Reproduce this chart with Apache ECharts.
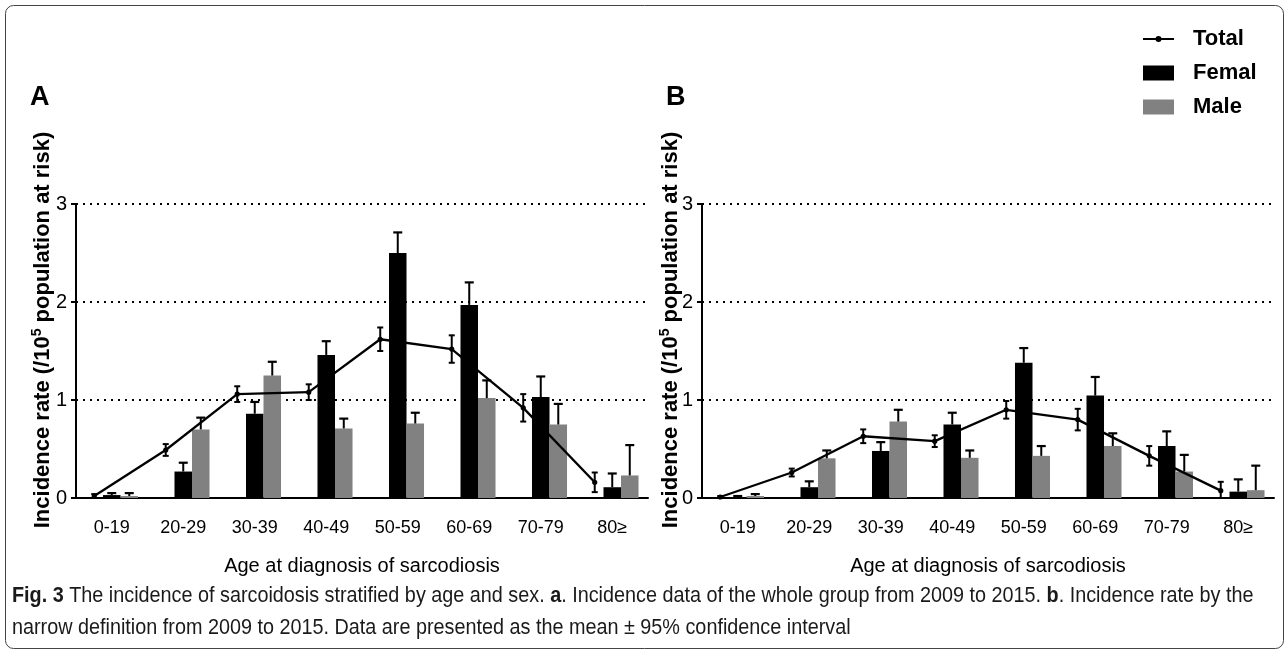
<!DOCTYPE html>
<html>
<head>
<meta charset="utf-8">
<script src="https://cdn.jsdelivr.net/npm/echarts@6/dist/echarts.min.js"></script>
<style>
html,body{margin:0;padding:0;background:#fff;}
#chart{width:1285px;height:651px;}
</style>
</head>
<body>
<div id="chart"></div>
<script>
// ---- data ----
const categories = ['0-19','20-29','30-39','40-49','50-59','60-69','70-79','80\u2265'];
const yTicks = [0, 1, 2, 3];

// Panel A: whole group
const totalA     = [0.02, 0.49, 1.06, 1.08, 1.62, 1.52, 0.92, 0.16];
const totalErrA  = [0.02, 0.06, 0.08, 0.08, 0.12, 0.14, 0.14, 0.10];
const femaleA    = [0.03, 0.27, 0.86, 1.46, 2.50, 1.97, 1.03, 0.11];
const femaleErrA = [0.02, 0.09, 0.12, 0.14, 0.21, 0.23, 0.21, 0.14];
const maleA      = [0.02, 0.70, 1.25, 0.71, 0.76, 1.02, 0.75, 0.23];
const maleErrA   = [0.03, 0.12, 0.14, 0.10, 0.11, 0.18, 0.21, 0.31];

// Panel B: narrow definition
const totalB     = [0.01, 0.26, 0.63, 0.58, 0.90, 0.80, 0.43, 0.075];
const totalErrB  = [0.01, 0.04, 0.07, 0.06, 0.09, 0.11, 0.10, 0.09];
const femaleB    = [0.01, 0.11, 0.48, 0.75, 1.38, 1.045, 0.53, 0.065];
const femaleErrB = [0.01, 0.06, 0.09, 0.12, 0.15, 0.19, 0.15, 0.125];
const maleB      = [0.02, 0.405, 0.78, 0.41, 0.43, 0.53, 0.27, 0.08];
const maleErrB   = [0.02, 0.08, 0.12, 0.075, 0.10, 0.13, 0.17, 0.25];

const COLOR_F = '#000000';
const COLOR_M = '#818181';
const SLOT = 0.245; // fraction of category band per bar slot

function toData(vals, errs) { return vals.map((v, i) => [i, v, errs[i]]); }

function barRender(offset, color) {
  return function (params, api) {
    const i = api.value(0), v = api.value(1), e = api.value(2);
    const band = api.size([1, 0])[0];
    const w = band * SLOT;
    const base = api.coord([i, 0]);
    const cx = base[0] + offset * w;
    const y0 = base[1];
    const yv = api.coord([i, v])[1];
    const ye = api.coord([i, v + e])[1];
    return {
      type: 'group',
      children: [
        { type: 'rect', shape: { x: cx - w / 2, y: yv, width: w, height: Math.max(y0 - yv, 0.8) }, style: { fill: color } },
        { type: 'line', shape: { x1: cx, y1: yv, x2: cx, y2: ye }, style: { stroke: '#000', lineWidth: 2 } },
        { type: 'line', shape: { x1: cx - 4.5, y1: ye, x2: cx + 4.5, y2: ye }, style: { stroke: '#000', lineWidth: 2.2 } }
      ]
    };
  };
}

function lineRender(vals) {
  return function (params, api) {
    const i = api.value(0), v = api.value(1), e = api.value(2);
    const band = api.size([1, 0])[0];
    const off = -band * SLOT;
    const p = api.coord([i, v]);
    const cx = p[0] + off;
    const yHi = api.coord([i, v + e])[1];
    const yLo = api.coord([i, Math.max(v - e, 0)])[1];
    const children = [];
    if (i < vals.length - 1) {
      const q = api.coord([i + 1, vals[i + 1]]);
      children.push({ type: 'line', shape: { x1: cx, y1: p[1], x2: q[0] + off, y2: q[1] }, style: { stroke: '#000', lineWidth: 2.3 } });
    }
    children.push({ type: 'line', shape: { x1: cx, y1: yHi, x2: cx, y2: yLo }, style: { stroke: '#000', lineWidth: 2 } });
    children.push({ type: 'line', shape: { x1: cx - 3, y1: yHi, x2: cx + 3, y2: yHi }, style: { stroke: '#000', lineWidth: 2 } });
    children.push({ type: 'line', shape: { x1: cx - 3, y1: yLo, x2: cx + 3, y2: yLo }, style: { stroke: '#000', lineWidth: 2 } });
    children.push({ type: 'circle', shape: { cx: cx, cy: p[1], r: 2.6 }, style: { fill: '#000' } });
    return { type: 'group', children: children };
  };
}

function makeAxes(idx) {
  const x = {
    type: 'category', gridIndex: idx, data: categories, boundaryGap: true,
    axisLine: { lineStyle: { color: '#000', width: 2 } },
    axisTick: { alignWithLabel: true, length: 8, lineStyle: { color: '#000', width: 2 } },
    axisLabel: { color: '#000', fontFamily: 'Liberation Sans, Arial, sans-serif', fontSize: 18, margin: 21 },
    name: 'Age at diagnosis of sarcodiosis', nameLocation: 'middle', nameGap: 58,
    nameTextStyle: { color: '#000', fontFamily: 'Liberation Sans, Arial, sans-serif', fontSize: 20 }
  };
  const y = {
    type: 'value', gridIndex: idx, min: yTicks[0], max: yTicks[yTicks.length - 1], interval: 1,
    axisLine: { show: true, lineStyle: { color: '#000', width: 2 } },
    axisTick: { show: true, length: 5, lineStyle: { color: '#000', width: 2 } },
    axisLabel: { color: '#000', fontFamily: 'Liberation Sans, Arial, sans-serif', fontSize: 20, margin: 9 },
    splitLine: { show: true, lineStyle: { color: '#000', width: 2, type: [2, 5] } }
  };
  return [x, y];
}

const axA = makeAxes(0), axB = makeAxes(1);

function panelSeries(idx, tot, totErr, fem, femErr, mal, malErr) {
  return [
    { name: 'Femal', type: 'custom', xAxisIndex: idx, yAxisIndex: idx, renderItem: barRender(0, COLOR_F),
      itemStyle: { color: COLOR_F }, data: toData(fem, femErr), z: 2 },
    { name: 'Male', type: 'custom', xAxisIndex: idx, yAxisIndex: idx, renderItem: barRender(1, COLOR_M),
      itemStyle: { color: COLOR_M }, data: toData(mal, malErr), z: 2 },
    { name: 'Total', type: 'custom', xAxisIndex: idx, yAxisIndex: idx, renderItem: lineRender(tot),
      itemStyle: { color: '#000' }, data: toData(tot, totErr), z: 5 }
  ];
}

const supTitle = 'Incidence rate (/10{sup|5} population at risk)';
function titleStyle() {
  return {
    text: supTitle, fill: '#000', font: 'bold 22px "Liberation Sans", Arial, sans-serif',
    align: 'center', verticalAlign: 'middle',
    rich: { sup: { fontSize: 14, fontWeight: 'bold', fontFamily: 'Liberation Sans, Arial, sans-serif', verticalAlign: 'top', padding: [0, 0, 12, 0] } }
  };
}

const captionFont = '22px "Liberation Sans", Arial, sans-serif';
const caption1 = '{b|Fig. 3} The incidence of sarcoidosis stratified by age and sex. {b|a}. Incidence data of the whole group from 2009 to 2015. {b|b}. Incidence rate by the';
const caption2 = 'narrow definition from 2009 to 2015. Data are presented as the mean \u00b1 95% confidence interval';

const chart = echarts.init(document.getElementById('chart'), null, { renderer: 'canvas' });
chart.setOption({
  animation: false,
  backgroundColor: '#fff',
  grid: [
    { left: 76, width: 572, top: 204, height: 294 },
    { left: 702, width: 572, top: 204, height: 294 }
  ],
  xAxis: [axA[0], axB[0]],
  yAxis: [axA[1], axB[1]],
  legend: {
    orient: 'vertical', left: 1138, top: 23, itemWidth: 31, itemHeight: 15, itemGap: 12,
    symbolKeepAspect: true,
    data: [
      { name: 'Total', icon: 'path://M0,2H31V4H0Z M12.5,3A3,3 0 1,1 18.5,3A3,3 0 1,1 12.5,3Z' },
      { name: 'Femal', icon: 'rect' },
      { name: 'Male', icon: 'rect' }
    ],
    textStyle: { color: '#000', fontSize: 22, fontWeight: 'bold', fontFamily: 'Liberation Sans, Arial, sans-serif', lineHeight: 22, padding: [0, 0, 0, 14] }
  },
  graphic: [
    { type: 'rect', left: 3, top: 3, shape: { width: 1278, height: 643, r: 8 }, style: { fill: 'none', stroke: '#444', lineWidth: 1 }, z: 0 },
    { type: 'text', x: 30, y: 98, style: { text: 'A', fill: '#000', font: 'bold 27px "Liberation Sans", Arial, sans-serif', verticalAlign: 'middle' } },
    { type: 'text', x: 666, y: 98, style: { text: 'B', fill: '#000', font: 'bold 27px "Liberation Sans", Arial, sans-serif', verticalAlign: 'middle' } },
    { type: 'text', x: 43, y: 330, rotation: Math.PI / 2, style: titleStyle() },
    { type: 'text', x: 671, y: 330, rotation: Math.PI / 2, style: titleStyle() },
    { type: 'text', x: 12, y: 596, scaleX: 0.9, style: {
        text: caption1, fill: '#1a1a1a', font: captionFont, verticalAlign: 'middle',
        rich: { b: { fontWeight: 'bold', fontSize: 22, fontFamily: 'Liberation Sans, Arial, sans-serif', fill: '#1a1a1a' } } } },
    { type: 'text', x: 12, y: 628, scaleX: 0.9, style: {
        text: caption2, fill: '#1a1a1a', font: captionFont, verticalAlign: 'middle' } }
  ],
  series: [].concat(
    panelSeries(0, totalA, totalErrA, femaleA, femaleErrA, maleA, maleErrA),
    panelSeries(1, totalB, totalErrB, femaleB, femaleErrB, maleB, maleErrB)
  )
});
</script>
</body>
</html>
